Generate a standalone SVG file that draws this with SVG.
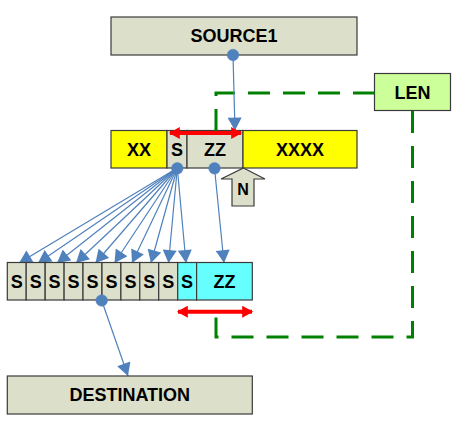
<svg xmlns="http://www.w3.org/2000/svg" width="459" height="425" viewBox="0 0 459 425">
<style>
.box{stroke:#3a3a3a;stroke-width:1.2}
.gray{fill:#DCDFCA}
.yel{fill:#FFFF00}
.cyan{fill:#66FFFF}
.lenf{fill:#CCFF99}
.t{font-family:"Liberation Sans",Arial,sans-serif;font-weight:bold;font-size:18px;fill:#000;text-anchor:middle}
.blue{stroke:#4F81BD;stroke-width:1.2;fill:none;marker-end:url(#ab)}
.dot{fill:#4F81BD;stroke:#4F81BD;stroke-width:0.5}
.red{stroke:#FF0000;stroke-width:4;fill:none;marker-start:url(#ar);marker-end:url(#ar)}
.green{stroke:#008000;stroke-width:3;fill:none;stroke-dasharray:22 13}
</style>
<defs>
<marker id="ab" markerUnits="userSpaceOnUse" markerWidth="14" markerHeight="14" viewBox="0 0 11 12" refX="11" refY="6" orient="auto">
<path d="M0,0 L11,6 L0,12 Z" fill="#4F81BD"/>
</marker>
<marker id="ar" markerUnits="userSpaceOnUse" markerWidth="12" markerHeight="12" viewBox="0 0 10 11" refX="9" refY="5.5" orient="auto-start-reverse">
<path d="M0,0 L10,5.5 L0,11 Z" fill="#FF0000"/>
</marker>
</defs>

<g id="source1">
<rect class="box gray" x="111" y="17" width="246" height="38"/>
<text class="t" x="234" y="42.3">SOURCE1</text>
</g>

<g id="len">
<rect class="box lenf" x="374.5" y="73.5" width="76" height="37"/>
<text class="t" x="412.5" y="98.5">LEN</text>
</g>

<g id="xx">
<rect class="box yel" x="111" y="130.5" width="56" height="37.5"/>
<text class="t" x="139" y="155.7">XX</text>
</g>
<g id="s">
<rect class="box gray" x="167" y="130.5" width="20" height="37.5"/>
<text class="t" x="177" y="155.7">S</text>
</g>
<g id="zz">
<rect class="box gray" x="187" y="130.5" width="56" height="37.5"/>
<text class="t" x="215" y="155.7">ZZ</text>
</g>
<g id="xxxx">
<rect class="box yel" x="243" y="130.5" width="114" height="37.5"/>
<text class="t" x="300" y="155.7">XXXX</text>
</g>

<g id="n">
<polygon class="box gray" points="243.5,168 265,179 254,179 254,206 232,206 232,179 221,179"/>
<text class="t" x="243" y="195" style="font-size:16px">N</text>
</g>

<g id="connectors">
<path class="green" d="M216,131 V93 H374.5"/>
<path class="green" d="M412.5,111 V337 H216 V317"/>
<line class="blue" x1="233" y1="55" x2="235" y2="130.5"/>
<line class="blue" x1="177.3" y1="168" x2="19" y2="263"/>
<line class="blue" x1="177.3" y1="168" x2="38" y2="263"/>
<line class="blue" x1="177.3" y1="168" x2="57" y2="263"/>
<line class="blue" x1="177.3" y1="168" x2="76" y2="263"/>
<line class="blue" x1="177.3" y1="168" x2="95.5" y2="263"/>
<line class="blue" x1="177.3" y1="168" x2="114.5" y2="263"/>
<line class="blue" x1="177.3" y1="168" x2="132" y2="263"/>
<line class="blue" x1="177.3" y1="168" x2="151" y2="263"/>
<line class="blue" x1="177.3" y1="168" x2="168.5" y2="263"/>
<line class="blue" x1="177.3" y1="168" x2="186" y2="263"/>
<line class="blue" x1="214.5" y1="168" x2="224" y2="263"/>
<line class="blue" x1="101.7" y1="300.5" x2="128" y2="376"/>
<line class="red" x1="170" y1="133" x2="241" y2="133"/>
<line class="red" x1="178" y1="311.7" x2="252" y2="311.7"/>
<circle class="dot" cx="233" cy="55" r="5.8"/>
<circle class="dot" cx="177.3" cy="168.3" r="5.8"/>
<circle class="dot" cx="214.5" cy="168.3" r="5.8"/>
</g>

<g id="c1"><rect class="box gray" x="7.3" y="262.5" width="18.93" height="37.5"/><text class="t" x="16.8" y="287.7">S</text></g>
<g id="c2"><rect class="box gray" x="26.2" y="262.5" width="18.93" height="37.5"/><text class="t" x="35.7" y="287.7">S</text></g>
<g id="c3"><rect class="box gray" x="45.2" y="262.5" width="18.93" height="37.5"/><text class="t" x="54.6" y="287.7">S</text></g>
<g id="c4"><rect class="box gray" x="64.1" y="262.5" width="18.93" height="37.5"/><text class="t" x="73.6" y="287.7">S</text></g>
<g id="c5"><rect class="box gray" x="83" y="262.5" width="18.93" height="37.5"/><text class="t" x="92.5" y="287.7">S</text></g>
<g id="c6"><rect class="box gray" x="102" y="262.5" width="18.93" height="37.5"/><text class="t" x="111.4" y="287.7">S</text></g>
<g id="c7"><rect class="box gray" x="120.9" y="262.5" width="18.93" height="37.5"/><text class="t" x="130.4" y="287.7">S</text></g>
<g id="c8"><rect class="box gray" x="139.8" y="262.5" width="18.93" height="37.5"/><text class="t" x="149.3" y="287.7">S</text></g>
<g id="c9"><rect class="box gray" x="158.7" y="262.5" width="18.93" height="37.5"/><text class="t" x="168.2" y="287.7">S</text></g>
<g id="c10"><rect class="box cyan" x="177.7" y="262.5" width="18.93" height="37.5"/><text class="t" x="187.1" y="287.7">S</text></g>
<g id="c11"><rect class="box cyan" x="196.6" y="262.5" width="55.7" height="37.5"/><text class="t" x="224.5" y="287.7">ZZ</text></g>
<circle class="dot" cx="101.7" cy="300.5" r="5.8"/>

<g id="destination">
<rect class="box gray" x="7.3" y="376" width="245" height="38"/>
<text class="t" x="129.8" y="401.3">DESTINATION</text>
</g>
</svg>
